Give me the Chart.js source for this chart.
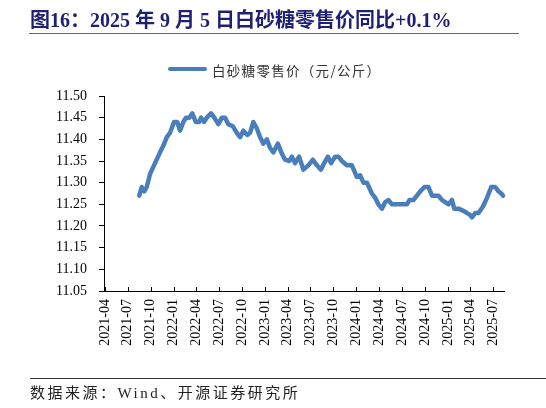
<!DOCTYPE html>
<html>
<head>
<meta charset="utf-8">
<script src="https://cdn.jsdelivr.net/npm/chart.js@4"></script>
<style>
  body { margin: 0; background: #fff; }
  #wrap { position: relative; width: 546px; height: 408px; background: #fff; overflow: hidden; }
  .title { position: absolute; left: 30px; top: 4px; font: bold 20px "Liberation Serif", "Noto Sans CJK SC"; color: #1f1f73; white-space: nowrap; }
  .rule-top { position: absolute; left: 29px; top: 33px; width: 490px; border-top: 1.5px solid #666; }
  .leg-line { position: absolute; left: 168px; top: 67px; width: 39px; height: 4px; background: #4a7ebb; border-radius: 2px; }
  .leg-text { position: absolute; left: 212px; top: 60px; font: 13.5px "Noto Sans CJK SC"; letter-spacing: 1.3px; color: #333; white-space: nowrap; }
  .rule-bot { position: absolute; left: 30px; top: 378px; width: 516px; border-top: 1px solid #333; }
  .source { position: absolute; left: 30px; top: 381px; font: 15px "Liberation Serif", "Noto Sans CJK SC"; letter-spacing: 2.5px; color: #222; white-space: nowrap; }
  #box { position: absolute; left: 0; top: 0; width: 546px; height: 408px; }
</style>
</head>
<body>
<div id="wrap">
  <div id="box"><canvas id="sugar"></canvas></div>
  <div class="title">图16：2025 年 9 月 5 日白砂糖零售价同比+0.1%</div>
  <div class="rule-top"></div>
  <div class="leg-line"></div>
  <div class="leg-text">白砂糖零售价（元/公斤）</div>
  <div class="rule-bot"></div>
  <div class="source">数据来源：Wind、开源证券研究所</div>
</div>
<script>
const dates = [
  "2021-08-16", "2021-08-26", "2021-09-05", "2021-09-15", "2021-09-28", "2021-10-18",
  "2021-11-07", "2021-11-20", "2021-12-04", "2021-12-17", "2022-01-02", "2022-01-15",
  "2022-01-26", "2022-02-08", "2022-02-19", "2022-03-04", "2022-03-16", "2022-03-30",
  "2022-04-12", "2022-04-20", "2022-05-02", "2022-05-13", "2022-05-30", "2022-06-12",
  "2022-06-28", "2022-07-12", "2022-07-25", "2022-08-07", "2022-08-25", "2022-09-10",
  "2022-09-23", "2022-10-06", "2022-10-22", "2022-11-02", "2022-11-15", "2022-11-29",
  "2022-12-12", "2022-12-25", "2023-01-08", "2023-01-21", "2023-02-03", "2023-02-21",
  "2023-03-09", "2023-03-22", "2023-04-08", "2023-04-18", "2023-05-01", "2023-05-17",
  "2023-06-03", "2023-06-23", "2023-07-11", "2023-07-27", "2023-08-12", "2023-08-25",
  "2023-09-09", "2023-09-22", "2023-10-08", "2023-10-21", "2023-11-04", "2023-11-24",
  "2023-12-14", "2024-01-03", "2024-01-16", "2024-01-29", "2024-02-12", "2024-03-03",
  "2024-03-16", "2024-03-29", "2024-04-12", "2024-04-25", "2024-05-08", "2024-05-22",
  "2024-06-11", "2024-07-01", "2024-07-21", "2024-07-31", "2024-08-16", "2024-08-30",
  "2024-09-12", "2024-09-29", "2024-10-15", "2024-10-29", "2024-11-11", "2024-11-24",
  "2024-12-08", "2024-12-21", "2025-01-03", "2025-01-17", "2025-01-26", "2025-02-12",
  "2025-03-04", "2025-03-18", "2025-03-31", "2025-04-07", "2025-04-20", "2025-05-03",
  "2025-05-21", "2025-06-06", "2025-06-23", "2025-07-09", "2025-07-22", "2025-08-02",
  "2025-08-09"
];

// 白砂糖零售价（元/公斤）
const prices = [
  11.27, 11.29, 11.28, 11.29, 11.32, 11.345,
  11.37, 11.385, 11.405, 11.415, 11.44, 11.44,
  11.42, 11.44, 11.45, 11.45, 11.46, 11.44,
  11.44, 11.45, 11.44, 11.45, 11.46, 11.45,
  11.435, 11.45, 11.45, 11.435, 11.43, 11.415,
  11.405, 11.42, 11.41, 11.415, 11.44, 11.425,
  11.405, 11.39, 11.40, 11.38, 11.37, 11.39,
  11.367, 11.353, 11.35, 11.36, 11.345, 11.36,
  11.33, 11.34, 11.353, 11.34, 11.33, 11.345,
  11.36, 11.345, 11.36, 11.36, 11.35, 11.34,
  11.34, 11.313, 11.317, 11.30, 11.30, 11.275,
  11.265, 11.25, 11.24, 11.255, 11.26, 11.25,
  11.25, 11.25, 11.25, 11.26, 11.26, 11.27,
  11.28, 11.29, 11.29, 11.27, 11.27, 11.27,
  11.26, 11.255, 11.25, 11.26, 11.24, 11.24,
  11.235, 11.23, 11.225, 11.22, 11.23, 11.23,
  11.245, 11.265, 11.29, 11.29, 11.28, 11.275,
  11.27
];

// quarter tick labels on the x axis
const tickLabels = [
  "2021-04", "2021-07", "2021-10", "2022-01", "2022-04", "2022-07",
  "2022-10", "2023-01", "2023-04", "2023-07", "2023-10", "2024-01",
  "2024-04", "2024-07", "2024-10", "2025-01", "2025-04", "2025-07"
];

const yTicks = { min: 11.05, max: 11.50, step: 0.05 };

function dayNum(s) {
  const p = s.split("-").map(Number);
  return Date.UTC(p[0], p[1] - 1, p[2] || 1) / 86400000;
}

const tickDays = tickLabels.map(dayNum);
const points = dates.map((d, i) => ({ x: dayNum(d), y: prices[i] }));

// x ticks in the reference point up into the plot
const innerTicks = {
  id: "innerTicks",
  afterDraw(chart) {
    const xs = chart.scales.x;
    const ctx = chart.ctx;
    ctx.save();
    ctx.strokeStyle = "#000";
    ctx.lineWidth = 1;
    xs.ticks.forEach(t => {
      const px = Math.round(xs.getPixelForValue(t.value)) + 0.5;
      ctx.beginPath();
      ctx.moveTo(px, xs.top);
      ctx.lineTo(px, xs.top - 4);
      ctx.stroke();
    });
    ctx.restore();
  }
};

new Chart(document.getElementById("sugar"), {
  type: "line",
  data: {
    datasets: [{
      label: "白砂糖零售价（元/公斤）",
      data: points,
      borderColor: "#4a7ebb",
      backgroundColor: "transparent",
      borderWidth: 4.5,
      pointRadius: 0,
      tension: 0,
      borderJoinStyle: "round",
      borderCapStyle: "round",
      clip: false
    }]
  },
  options: {
    responsive: true,
    maintainAspectRatio: false,
    animation: false,
    layout: { padding: { top: 96, left: 0, right: 42, bottom: 0 } },
    plugins: { legend: { display: false }, tooltip: { enabled: false } },
    scales: {
      x: {
        type: "linear",
        min: dayNum("2021-03-28"),
        max: dayNum("2021-04-01") + 1595,
        afterBuildTicks: axis => { axis.ticks = tickDays.map(v => ({ value: v })); },
        afterFit: axis => { axis.height = 117; },
        ticks: {
          autoSkip: false,
          minRotation: 90,
          maxRotation: 90,
          padding: 8,
          color: "#000",
          font: { family: "Liberation Serif", size: 14 },
          callback: v => tickLabels[tickDays.indexOf(v)] || ""
        },
        grid: { drawOnChartArea: false, drawTicks: false, color: "#000" },
        border: { color: "#000", width: 1 }
      },
      y: {
        min: yTicks.min,
        max: yTicks.max,
        afterFit: axis => { axis.width = 104; },
        ticks: {
          stepSize: yTicks.step,
          padding: 12,
          color: "#000",
          font: { family: "Liberation Serif", size: 14 },
          callback: v => Number(v).toFixed(2)
        },
        grid: { drawOnChartArea: false, drawTicks: true, tickLength: 5, color: "#000" },
        border: { color: "#000", width: 1 }
      }
    }
  },
  plugins: [innerTicks]
});
</script>
</body>
</html>
